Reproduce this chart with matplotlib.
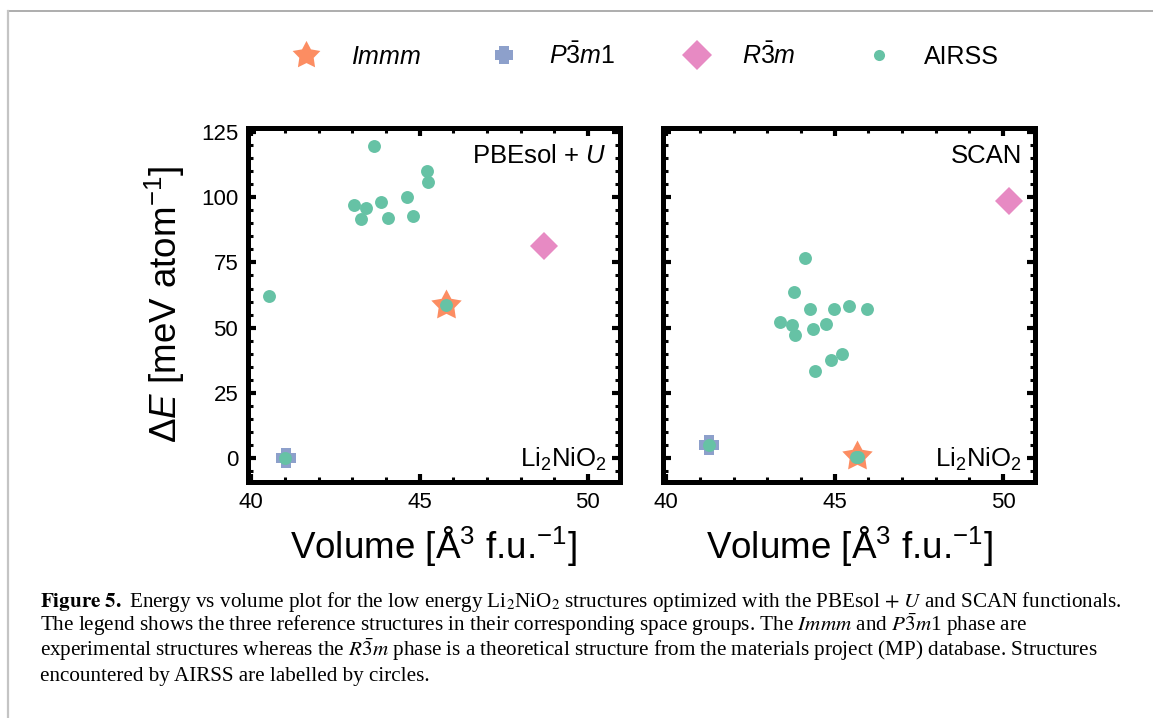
"""Energy vs volume of Li2NiO2 structures for two functionals."""

import matplotlib
matplotlib.use('Agg')
import matplotlib.pyplot as plt
from matplotlib.lines import Line2D
from matplotlib.path import Path
from matplotlib.ticker import MultipleLocator

plt.rcParams['font.family'] = ['Liberation Sans', 'DejaVu Sans']
plt.rcParams['mathtext.fontset'] = 'custom'
plt.rcParams['mathtext.rm'] = 'Liberation Sans'
plt.rcParams['mathtext.it'] = 'Liberation Sans:italic'
plt.rcParams['mathtext.bf'] = 'Liberation Sans:bold'

# colours for the reference phases and the AIRSS search
C_IMMM = '#fc8d62'
C_P3M1 = '#8da0cb'
C_R3M = '#e78ac3'
C_AIRSS = '#66c2a5'

# PBEsol + U panel
pbe_airss_vol = [43.65, 45.23, 45.26, 43.04, 43.40, 43.85, 44.63, 43.25,
                 44.07, 44.81, 40.52, 45.79, 41.00]
pbe_airss_de = [119.6, 110.0, 105.8, 97.2, 96.0, 98.2, 100.3, 91.8,
                92.0, 92.8, 62.2, 58.5, 0.0]
pbe_immm = (45.8, 58.7)
pbe_p3m1 = (41.02, 0.0)
pbe_r3m = (48.69, 81.5)

# SCAN panel
scan_airss_vol = [44.11, 43.79, 44.27, 44.99, 45.42, 45.96, 43.38, 43.72,
                  43.81, 44.37, 44.74, 45.22, 44.88, 44.43, 41.28, 45.63,
                  45.70]
scan_airss_de = [76.9, 63.6, 57.2, 57.1, 58.1, 57.3, 52.1, 50.9,
                 47.2, 49.4, 51.3, 39.9, 37.4, 33.3, 4.9, 0.2, 0.2]
scan_immm = (45.66, 0.6)
scan_p3m1 = (41.28, 4.9)
scan_r3m = (50.17, 98.5)

panels = [
    ('PBEsol + $U$', pbe_airss_vol, pbe_airss_de, pbe_immm, pbe_p3m1, pbe_r3m),
    ('SCAN', scan_airss_vol, scan_airss_de, scan_immm, scan_p3m1, scan_r3m),
]

# fat five-point star and chunky plus
STAR = Path.unit_regular_star(5, innerCircle=0.52)
a, b = 0.28, 0.5
PLUS = Path([(-a, b), (a, b), (a, a), (b, a), (b, -a), (a, -a), (a, -b),
             (-a, -b), (-a, -a), (-b, -a), (-b, a), (-a, a), (-a, b)],
            closed=True)

fig = plt.figure(figsize=(11.53, 7.18), dpi=100)

# thin page frame
fig.add_artist(Line2D([0.007, 1.0], [0.985, 0.985], color='#a0a0a0',
                      lw=1.2, transform=fig.transFigure))
fig.add_artist(Line2D([0.007, 0.007], [0.0, 0.985], color='#c4c4c4',
                      lw=1.6, transform=fig.transFigure))

lefts = [0.215, 0.575]
axes = []
for i, (name, avol, ade, immm, p3m1, r3m) in enumerate(panels):
    ax = fig.add_axes([lefts[i], 0.329, 0.3226, 0.493])
    axes.append(ax)
    ax.plot(*immm, marker=STAR, ms=23, color=C_IMMM, ls='none', mew=0)
    ax.plot(*p3m1, marker=PLUS, ms=14, color=C_P3M1, ls='none', mew=0)
    ax.plot(*r3m, marker='D', ms=14, color=C_R3M, ls='none', mew=0)
    ax.plot(avol, ade, marker='o', ms=9.3, color=C_AIRSS, ls='none', mew=0)

    ax.set_xlim(39.9, 50.95)
    ax.set_ylim(-9.2, 126.7)
    ax.xaxis.set_major_locator(MultipleLocator(5))
    ax.xaxis.set_minor_locator(MultipleLocator(1))
    ax.yaxis.set_major_locator(MultipleLocator(25))
    ax.yaxis.set_minor_locator(MultipleLocator(5))
    ax.tick_params(which='both', direction='in', top=True, right=True,
                   labelsize=16, pad=7)
    ax.tick_params(which='major', length=6, width=3)
    ax.tick_params(which='minor', length=3.5, width=2.2)
    for sp in ax.spines.values():
        sp.set_linewidth(3.6)

    ax.text(0.965, 0.955, name, transform=ax.transAxes, ha='right',
            va='top', fontsize=18.5)
    ax.text(0.965, 0.025, 'Li$_2$NiO$_2$', transform=ax.transAxes,
            ha='right', va='bottom', fontsize=18.5)
    ax.set_xlabel('Volume [Å$^{3}$ f.u.$^{-1}$]', fontsize=26.5, labelpad=9)

axes[0].set_ylabel(r'$\Delta E$ [meV atom$^{-1}$]', fontsize=26.5,
                   labelpad=10)
axes[1].tick_params(labelleft=False)

handles = [
    Line2D([], [], marker=STAR, ms=21, color=C_IMMM, ls='none', mew=0),
    Line2D([], [], marker=PLUS, ms=13, color=C_P3M1, ls='none', mew=0),
    Line2D([], [], marker='D', ms=15, color=C_R3M, ls='none', mew=0),
    Line2D([], [], marker='o', ms=8, color=C_AIRSS, ls='none', mew=0),
]
labels = ['$Immm$', r'$P\bar{3}m$1', r'$R\bar{3}m$', 'AIRSS']
fig.legend(handles, labels, loc='center', bbox_to_anchor=(0.555, 0.923),
           ncol=4, frameon=False, fontsize=18, columnspacing=2.3,
           handletextpad=0.8)

caption = [
    r'$\mathbf{Figure\ 5.}$ Energy vs volume plot for the low energy '
    r'Li$_2$NiO$_2$ structures optimized with the PBEsol $+\ U$ and SCAN '
    r'functionals.',
    r'The legend shows the three reference structures in their corresponding '
    r'space groups. The $Immm$ and $P\bar{3}m$1 phase are',
    r'experimental structures whereas the $R\bar{3}m$ phase is a theoretical '
    r'structure from the materials project (MP) database. Structures',
    'encountered by AIRSS are labelled by circles.',
]
for k, line in enumerate(caption):
    fig.text(0.035, 1 - (607 + 24.5 * k) / 718, line, ha='left',
             va='baseline', fontsize=15.2, family='Liberation Serif',
             math_fontfamily='stix')

fig.savefig('out.png', dpi=100)
